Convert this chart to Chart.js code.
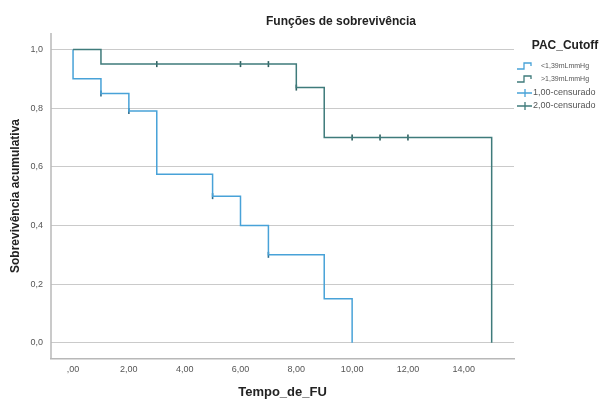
<!DOCTYPE html>
<html>
<head>
<meta charset="utf-8">
<script src="https://cdn.jsdelivr.net/npm/chart.js@4.4.0/dist/chart.umd.min.js"></script>
<style>
  html, body { margin: 0; padding: 0; background: #fff; }
  #wrap { position: relative; width: 613px; height: 399px; }
</style>
</head>
<body>
<div id="wrap"><canvas id="km"></canvas></div>
<script>
// === DATA ===
var timeLow = [0, 0, 1, 2, 3, 5, 6, 7, 9, 10];
var survLow = [1, 0.9, 0.85, 0.79, 0.575, 0.50, 0.40, 0.30, 0.15, 0];
var timeHigh = [0, 1, 8, 9, 15];
var survHigh = [1, 0.95, 0.87, 0.70, 0];

var censLowT = [1, 2, 5, 7];
var censLowS = [0.85, 0.79, 0.50, 0.30];
var censHighT = [3, 6, 7, 8, 10, 11, 12];
var censHighS = [0.95, 0.95, 0.95, 0.87, 0.70, 0.70, 0.70];

var xTicks = [0, 2, 4, 6, 8, 10, 12, 14];
var xTickLabels = [',00', '2,00', '4,00', '6,00', '8,00', '10,00', '12,00', '14,00'];
var yTicks = [0, 0.2, 0.4, 0.6, 0.8, 1.0];
var yTickLabels = ['0,0', '0,2', '0,4', '0,6', '0,8', '1,0'];

var legendTitle = 'PAC_Cutoff';
var legendLabels = ['<1,39mLmmHg', '>1,39mLmmHg', '1,00-censurado', '2,00-censurado'];

var LIGHT = '#48a2d8';
var DARK = '#3f7b7b';
var AXIS = '#b8b8b8';
var FONT = '"Liberation Sans", Arial, sans-serif';

function pts(xs, ys) { return xs.map(function(x, i) { return { x: x, y: ys[i] }; }); }

// Title, y axis line and legend drawn on the canvas
var extras = {
  id: 'extras',
  beforeDatasetsDraw: function(chart) {
    var a = chart.chartArea, ctx = chart.ctx;
    ctx.save();
    ctx.strokeStyle = AXIS;
    ctx.lineWidth = 1.5;
    ctx.beginPath();
    ctx.moveTo(a.left, a.top);
    ctx.lineTo(a.left, a.bottom);
    ctx.stroke();
    ctx.restore();
  },
  afterDraw: function(chart) {
    var ctx = chart.ctx;
    ctx.save();
    ctx.fillStyle = '#222';
    ctx.font = 'bold 12px ' + FONT;
    ctx.textAlign = 'center';
    ctx.textBaseline = 'middle';
    ctx.fillText('Funções de sobrevivência', 341, 22);
    ctx.fillText(legendTitle, 565, 46);

    var rows = [66, 79, 93, 106];
    ctx.textAlign = 'left';
    ctx.lineWidth = 1.3;
    [LIGHT, DARK].forEach(function(c, i) {
      var y = rows[i];
      ctx.strokeStyle = c;
      ctx.beginPath();
      ctx.moveTo(517, y + 3); ctx.lineTo(524, y + 3); ctx.lineTo(524, y - 3);
      ctx.lineTo(531, y - 3); ctx.lineTo(531, y);
      ctx.stroke();
      ctx.fillStyle = '#555';
      ctx.font = '7px ' + FONT;
      ctx.fillText(legendLabels[i], 541, y);
    });
    [LIGHT, DARK].forEach(function(c, i) {
      var y = rows[i + 2];
      ctx.strokeStyle = c;
      ctx.beginPath();
      ctx.moveTo(517, y); ctx.lineTo(532, y);
      ctx.moveTo(525, y - 4); ctx.lineTo(525, y + 4);
      ctx.stroke();
      ctx.fillStyle = '#555';
      ctx.font = '9px ' + FONT;
      ctx.fillText(legendLabels[i + 2], 533, y);
    });
    ctx.restore();
  }
};

var ctx = document.getElementById('km').getContext('2d');
var kmChart = new Chart(ctx, {
  type: 'line',
  data: {
    datasets: [{
      label: legendLabels[1], data: pts(timeHigh, survHigh),
      borderColor: DARK, borderWidth: 1.5, stepped: true, pointRadius: 0, fill: false
    }, {
      label: legendLabels[0], data: pts(timeLow, survLow),
      borderColor: LIGHT, borderWidth: 1.5, stepped: true, pointRadius: 0, fill: false
    }, {
      label: legendLabels[3], data: pts(censHighT, censHighS), showLine: false,
      pointStyle: 'line', rotation: 90, pointRadius: 3, borderColor: '#2f5f5f', borderWidth: 1.6
    }, {
      label: legendLabels[2], data: pts(censLowT, censLowS), showLine: false,
      pointStyle: 'line', rotation: 90, pointRadius: 3, borderColor: '#2f6f90', borderWidth: 1.6
    }]
  },
  options: {
    responsive: true, maintainAspectRatio: false, animation: false,
    layout: { padding: { top: 33, right: 99, left: 0, bottom: 0 } },
    plugins: { legend: { display: false }, tooltip: { enabled: false } },
    scales: {
      x: {
        type: 'linear', min: -0.79, max: 15.8,
        afterBuildTicks: function(s) { s.ticks = xTicks.map(function(v) { return { value: v }; }); },
        afterFit: function(s) { s.height = 40; },
        grid: { display: false, drawTicks: false },
        border: { display: true, color: AXIS, width: 1.5 },
        ticks: {
          padding: 5, color: '#555', font: { size: 9, family: FONT },
          maxRotation: 0, autoSkip: false,
          callback: function(v) { return xTickLabels[xTicks.indexOf(v)]; }
        },
        title: {
          display: true, text: 'Tempo_de_FU', color: '#222', padding: { top: 0, bottom: 0 },
          font: { size: 13, weight: 'bold', lineHeight: 1, family: FONT }
        }
      },
      y: {
        type: 'linear', min: -0.055, max: 1.056,
        afterBuildTicks: function(s) { s.ticks = yTicks.map(function(v) { return { value: v }; }); },
        afterFit: function(s) { s.width = 51; },
        grid: { color: '#cacaca', lineWidth: 1, drawTicks: false },
        border: { display: false },
        ticks: {
          padding: 8, color: '#555', font: { size: 9, family: FONT },
          autoSkip: false,
          callback: function(v) { return yTickLabels[yTicks.indexOf(v)]; }
        },
        title: {
          display: true, text: 'Sobrevivência acumulativa', color: '#222', padding: { top: 10, bottom: 0 },
          font: { size: 12, weight: 'bold', lineHeight: 1, family: FONT }
        }
      }
    }
  },
  plugins: [extras]
});
</script>
</body>
</html>
